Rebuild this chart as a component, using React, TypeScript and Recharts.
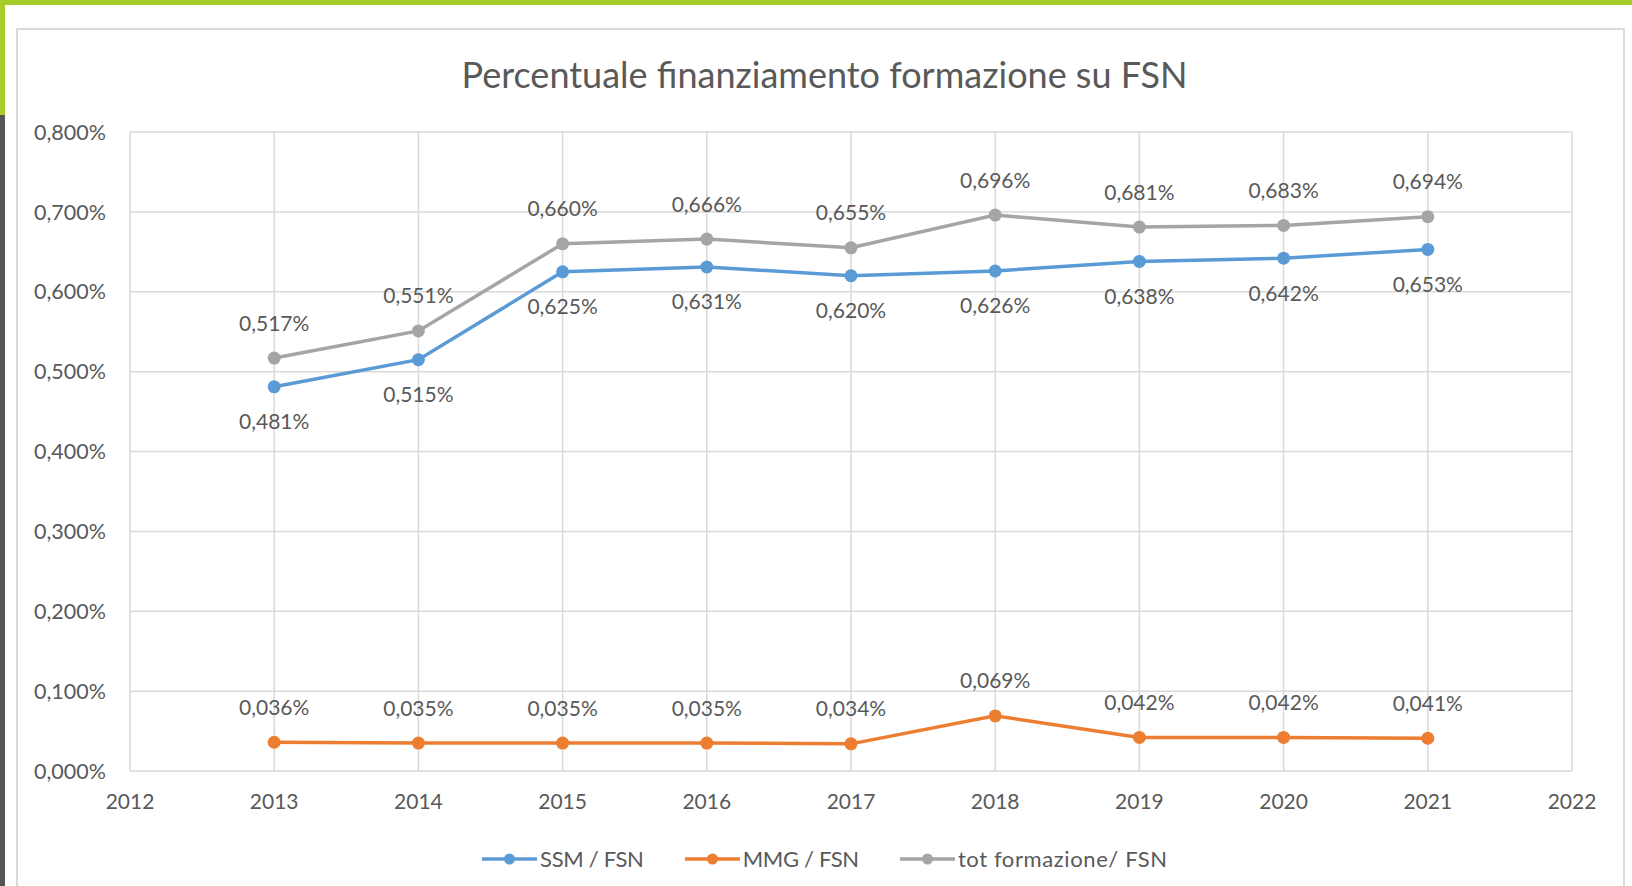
import { LineChart, Line, XAxis, YAxis, CartesianGrid, Legend, LabelList } from "recharts";

const years = [2013, 2014, 2015, 2016, 2017, 2018, 2019, 2020, 2021];
const ssmFsn = [0.481, 0.515, 0.625, 0.631, 0.62, 0.626, 0.638, 0.642, 0.653];
const mmgFsn = [0.036, 0.035, 0.035, 0.035, 0.034, 0.069, 0.042, 0.042, 0.041];
const totFsn = [0.517, 0.551, 0.66, 0.666, 0.655, 0.696, 0.681, 0.683, 0.694];
const xTicks = [2012, 2013, 2014, 2015, 2016, 2017, 2018, 2019, 2020, 2021, 2022];
const yTicks = [0, 0.1, 0.2, 0.3, 0.4, 0.5, 0.6, 0.7, 0.8];

const data = years.map((year, i) => ({
  year,
  ssm: ssmFsn[i],
  mmg: mmgFsn[i],
  tot: totFsn[i],
}));

const FONT = "Lato, 'Open Sans', sans-serif";
const TEXT = "#595959";
const fmt = (v: number) => v.toFixed(3).replace(".", ",") + "%";

const makeLabel = (dy: number) => (props: any) => (
  <text
    x={props.x}
    y={props.y + dy}
    textAnchor="middle"
    dominantBaseline="central"
    fill={TEXT}
    fontSize={21}
    fontFamily={FONT}
  >
    {fmt(props.value)}
  </text>
);

const legendItems = [
  { name: "SSM / FSN", color: "#5b9bd5", spacing: -0.3 },
  { name: "MMG / FSN", color: "#ed7d31", spacing: -0.3 },
  { name: "tot formazione/ FSN", color: "#a5a5a5", spacing: 0.6 },
];

function LegendContent() {
  return (
    <div style={{ display: "flex", alignItems: "center", fontFamily: FONT, fontSize: 22, color: TEXT, whiteSpace: "nowrap" }}>
      {legendItems.map((it) => (
        <div key={it.name} style={{ display: "flex", alignItems: "center", marginRight: 41 }}>
          <svg width={55} height={14} style={{ marginRight: 3 }}>
            <line x1={0} y1={7} x2={55} y2={7} stroke={it.color} strokeWidth={3.5} />
            <circle cx={27.5} cy={7} r={5.5} fill={it.color} />
          </svg>
          <span style={{ letterSpacing: it.spacing }}>{it.name}</span>
        </div>
      ))}
    </div>
  );
}

export default function App() {
  return (
    <div style={{ position: "absolute", left: 0, top: 0, width: 1632, height: 886, overflow: "hidden", background: "#fff" }}>
      <div style={{ position: "absolute", left: 0, top: 0, width: 1632, height: 5, background: "#a6ce2a" }} />
      <div style={{ position: "absolute", left: 0, top: 0, width: 5, height: 115, background: "#a6ce2a" }} />
      <div style={{ position: "absolute", left: 0, top: 115, width: 5, height: 771, background: "#555555" }} />
      <div
        style={{
          position: "absolute",
          left: 16,
          top: 28,
          width: 1605,
          height: 900,
          border: "2px solid #dadada",
        }}
      />
      <div
        style={{
          position: "absolute",
          left: 16,
          top: 52,
          width: 1609,
          textAlign: "center",
          fontFamily: FONT,
          fontSize: 36,
          color: TEXT,
          paddingLeft: 4,
        }}
      >
        Percentuale finanziamento formazione su FSN
      </div>
      <div style={{ position: "absolute", left: 16, top: 28 }}>
        <LineChart width={1609} height={858} data={data} margin={{ top: 104, right: 53, left: 0, bottom: 75 }}>
          <CartesianGrid stroke="#d9d9d9" strokeWidth={1.5} vertical horizontal />
          <XAxis
            dataKey="year"
            type="number"
            domain={[2012, 2022]}
            ticks={xTicks}
            interval={0}
            height={40}
            axisLine={false}
            tickLine={false}
            tickMargin={17}
            tick={{ fill: TEXT, fontSize: 21, fontFamily: FONT }}
          />
          <YAxis
            type="number"
            domain={[0, 0.8]}
            ticks={yTicks}
            interval={0}
            width={114}
            axisLine={false}
            tickLine={false}
            tickMargin={18}
            tickFormatter={fmt}
            tick={{ fill: TEXT, fontSize: 21.5, fontFamily: FONT }}
          />
          <Legend
            verticalAlign="middle"
            layout="horizontal"
            content={<LegendContent />}
            wrapperStyle={{ top: 817, left: 466, width: "auto", bottom: "auto" }}
          />
          <Line
            dataKey="tot"
            name="tot formazione/ FSN"
            stroke="#a5a5a5"
            strokeWidth={3.5}
            dot={{ r: 6.5, fill: "#a5a5a5", stroke: "#a5a5a5", strokeWidth: 0 }}
            isAnimationActive={false}
          >
            <LabelList dataKey="tot" content={makeLabel(-36)} />
          </Line>
          <Line
            dataKey="ssm"
            name="SSM / FSN"
            stroke="#5b9bd5"
            strokeWidth={3.5}
            dot={{ r: 6.5, fill: "#5b9bd5", stroke: "#5b9bd5", strokeWidth: 0 }}
            isAnimationActive={false}
          >
            <LabelList dataKey="ssm" content={makeLabel(34)} />
          </Line>
          <Line
            dataKey="mmg"
            name="MMG / FSN"
            stroke="#ed7d31"
            strokeWidth={3.5}
            dot={{ r: 6.5, fill: "#ed7d31", stroke: "#ed7d31", strokeWidth: 0 }}
            isAnimationActive={false}
          >
            <LabelList dataKey="mmg" content={makeLabel(-36)} />
          </Line>
        </LineChart>
      </div>
    </div>
  );
}
